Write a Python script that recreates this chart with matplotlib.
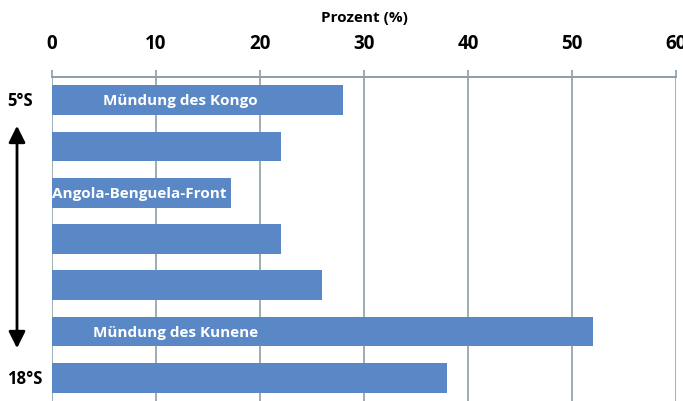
import matplotlib
matplotlib.use("Agg")
import matplotlib.pyplot as plt

values = [28, 22, 17.2, 22, 26, 52, 38]
bar_labels = ["Mündung des Kongo", "", "Angola-Benguela-Front", "", "", "Mündung des Kunene", ""]
label_x = [12.3, None, 0, None, None, 3.9, None]
label_ha = ["center", None, "left", None, None, "left", None]
xticks = [0, 10, 20, 30, 40, 50, 60]
xlabel = "Prozent (%)"
lat_top = "5°S"
lat_bottom = "18°S"

FONT = "Open Sans"
W, H = 683, 402
fig = plt.figure(figsize=(W / 100, H / 100), dpi=100)
ax = fig.add_axes([52 / W, 0.0 / H, (676 - 52) / W, (402 - 78) / H])

bar_color = "#5a87c5"
grid_color = "#8d9ea8"
n = len(values)
ypos = list(range(n))
ax.barh(ypos, values, height=0.645, color=bar_color, zorder=2)
ax.set_ylim(n - 0.5 + 0.0, -0.5)
ax.set_xlim(0, 60)
ax.set_yticks([])
ax.set_xticks(xticks)
ax.xaxis.tick_top()
ax.xaxis.set_label_position("top")
ax.tick_params(axis="x", direction="out", length=5, width=1.2, color=grid_color, pad=12,
               labelsize=13.5)
for lbl in ax.get_xticklabels():
    lbl.set_fontfamily(FONT)
    lbl.set_fontweight("bold")
ax.set_xlabel(xlabel, fontfamily=FONT, fontweight="bold", fontsize=11, labelpad=9)
for x in xticks:
    ax.axvline(x, color=grid_color, lw=1.2, zorder=1)
for s in ["left", "right", "bottom"]:
    ax.spines[s].set_visible(False)
ax.spines["top"].set_color(grid_color)
ax.spines["top"].set_linewidth(1.4)

for i, (t, lx, ha) in enumerate(zip(bar_labels, label_x, label_ha)):
    if t:
        ax.text(lx, i, t, ha=ha, va="center", color="white", fontfamily=FONT,
                fontweight="bold", fontsize=11, zorder=3)

import matplotlib.transforms as mtrans
lat_tr = mtrans.blended_transform_factory(fig.transFigure, ax.transData)
ax.text(7 / W, 0, lat_top, transform=lat_tr, ha="left", va="center",
        fontfamily=FONT, fontweight="bold", fontsize=12, clip_on=False)
ax.text(7 / W, n - 1, lat_bottom, transform=lat_tr, ha="left", va="center",
        fontfamily=FONT, fontweight="bold", fontsize=12, clip_on=False)

fig.patches.append(matplotlib.patches.FancyArrowPatch(
    (17 / W, 1 - 124 / H), (17 / W, 1 - 352 / H), transform=fig.transFigure,
    arrowstyle="<|-|>,head_length=10,head_width=5", color="black", lw=2,
    mutation_scale=1))

fig.savefig("out.png", dpi=100)
